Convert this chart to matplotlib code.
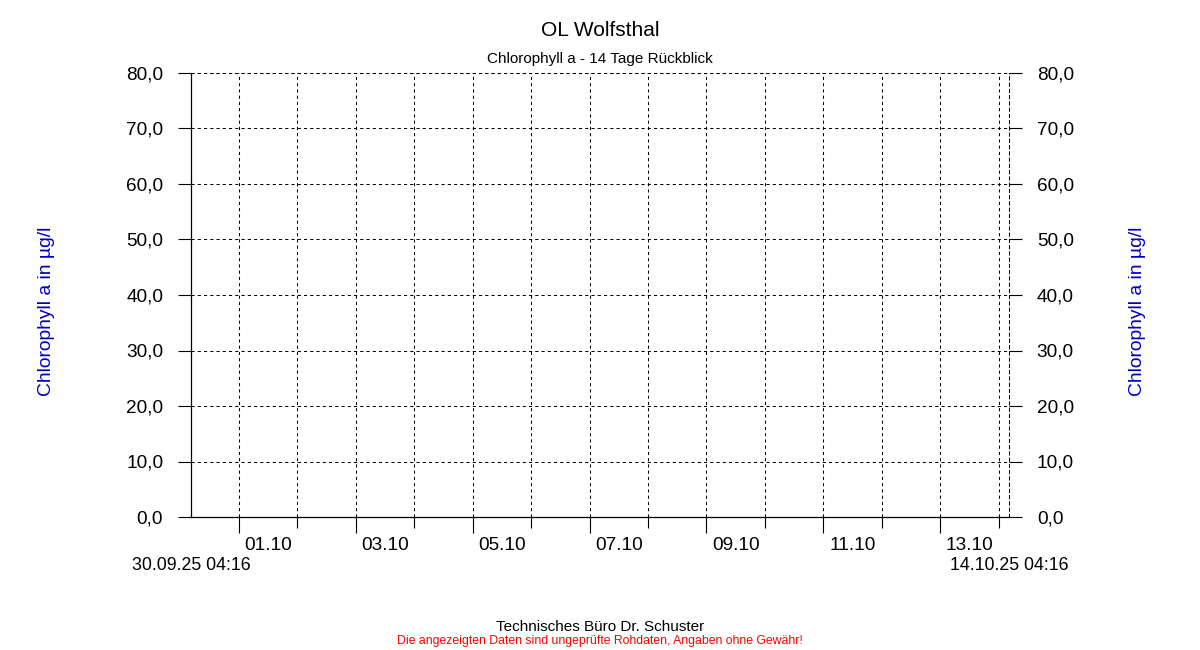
import datetime as dt
import matplotlib
matplotlib.use("Agg")
import matplotlib.pyplot as plt
import matplotlib.dates as mdates
from matplotlib.ticker import FixedLocator, FuncFormatter
import matplotlib.transforms as mtransforms

plt.rcParams['font.family'] = ['Liberation Sans', 'DejaVu Sans']

# data
station = "OL Wolfsthal"
subtitle = "Chlorophyll a - 14 Tage Rückblick"
y_label = "Chlorophyll a in µg/l"
start = dt.datetime(2025, 9, 30, 4, 16)
end = dt.datetime(2025, 10, 14, 4, 16)
y_ticks = [0, 10, 20, 30, 40, 50, 60, 70, 80]
day_labels = ["01.10", "03.10", "05.10", "07.10", "09.10", "11.10", "13.10"]
times = []      # no measurements in this period
values = []

W, H = 1200, 650
fig = plt.figure(figsize=(12, 6.5), dpi=100)
ax = fig.add_axes([191 / W, 1 - 517 / H, (1009 - 191) / W, (517 - 73) / H])

ax.plot(times, values, color="#0000c8", lw=1)
ax.set_xlim(start, end)
ax.set_ylim(0, 80)

# midnights: odd days long ticks (major), even days short ticks (minor)
midnights = [dt.datetime(2025, 10, 1) + dt.timedelta(days=i) for i in range(14)]
ax.xaxis.set_major_locator(FixedLocator([mdates.date2num(d) for d in midnights[0::2]]))
ax.xaxis.set_minor_locator(FixedLocator([mdates.date2num(d) for d in midnights[1::2]]))
ax.xaxis.set_major_formatter(FuncFormatter(lambda v, p: ""))
ax.xaxis.set_minor_formatter(FuncFormatter(lambda v, p: ""))
ax.tick_params(axis="x", which="major", length=11.5, width=0.8, direction="out")
ax.tick_params(axis="x", which="minor", length=8, width=0.8, direction="out")

ax.set_yticks(y_ticks)
ax.yaxis.set_major_formatter(FuncFormatter(lambda v, p: f"{v:.1f}".replace(".", ",")))
ax.tick_params(axis="y", length=9.5, width=0.8, pad=10.5, labelsize=13.7,
               left=True, right=True, labelleft=True, labelright=True)

grid_kw = dict(color="black", linewidth=0.75, linestyle=(0, (3, 3)))
ax.grid(True, which="both", axis="x", **grid_kw)
ax.grid(True, which="major", axis="y", **grid_kw)
ax.set_axisbelow(True)

ax.spines["top"].set_visible(False)
ax.spines["right"].set_linestyle((0, (3, 3)))
ax.spines["right"].set_linewidth(0.75)
for s in ("left", "bottom"):
    ax.spines[s].set_linewidth(0.9)
ax.axhline(80, **grid_kw, clip_on=False)

# day labels centred at noon
trans = mtransforms.blended_transform_factory(ax.transData, fig.transFigure)
for lab in day_labels:
    d = dt.datetime.strptime(lab + ".2025", "%d.%m.%Y") + dt.timedelta(hours=12)
    ax.text(mdates.date2num(d), 1 - 545 / H, lab, transform=trans,
            ha="center", va="center", fontsize=13.7)
ax.text(mdates.date2num(start), 1 - 565 / H, start.strftime("%d.%m.%y %H:%M"),
        transform=trans, ha="center", va="center", fontsize=12.8)
ax.text(mdates.date2num(end), 1 - 565 / H, end.strftime("%d.%m.%y %H:%M"),
        transform=trans, ha="center", va="center", fontsize=12.8)

fig.text(600 / W, 1 - 30 / H, station, ha="center", va="center", fontsize=15)
fig.text(600 / W, 1 - 59 / H, subtitle, ha="center", va="center", fontsize=11)
fig.text(47 / W, 1 - 311 / H, y_label, rotation=90, ha="center", va="center",
         fontsize=13.9, color="#0000c0")
fig.text(1137 / W, 1 - 311 / H, y_label, rotation=90, ha="center", va="center",
         fontsize=13.9, color="#0000c0")
fig.text(600 / W, 1 - 627 / H, "Technisches Büro Dr. Schuster",
         ha="center", va="center", fontsize=11)
fig.text(600 / W, 1 - 641 / H,
         "Die angezeigten Daten sind ungeprüfte Rohdaten, Angaben ohne Gewähr!",
         ha="center", va="center", fontsize=8.8, color="#ff0000")

fig.savefig("out.png", dpi=100)
